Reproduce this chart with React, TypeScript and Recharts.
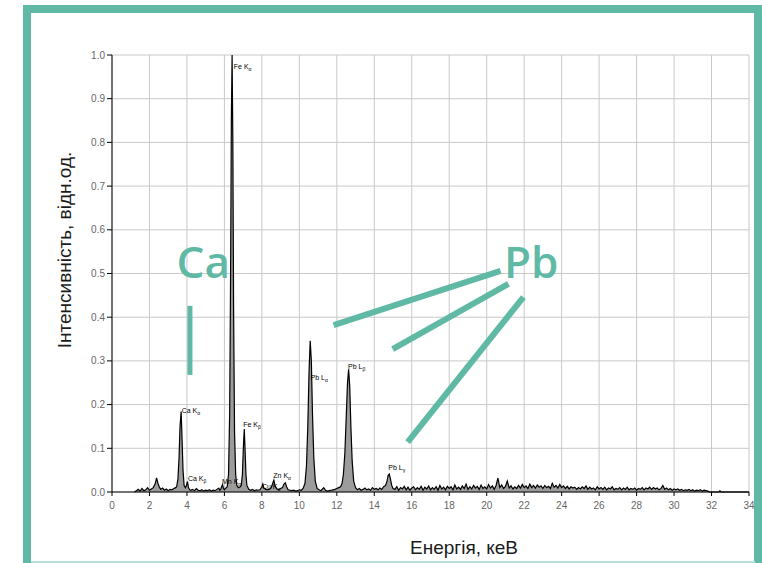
import React from 'react';
import {
  ComposedChart,
  Area,
  XAxis,
  YAxis,
  CartesianGrid,
  ReferenceLine,
  ReferenceDot,
} from 'recharts';

// energy (keV), intensity (rel. units)
const lowRegion: [number, number][] = [
  [1.2, 0], [1.3, 0.003], [1.4, 0.006], [1.5, 0.002], [1.6, 0.008], [1.7, 0.003], [1.8, 0.005],
  [1.9, 0.01], [2.0, 0.004], [2.1, 0.007], [2.2, 0.01], [2.3, 0.018], [2.38, 0.032], [2.45, 0.02],
  [2.52, 0.012], [2.6, 0.006], [2.7, 0.009], [2.8, 0.004], [2.9, 0.007], [3.0, 0.003], [3.1, 0.006],
  [3.2, 0.005], [3.3, 0.008], [3.4, 0.01],
];

const caPeaks: [number, number][] = [
  [3.45, 0.012], [3.52, 0.03], [3.58, 0.08], [3.63, 0.15], [3.69, 0.184], [3.74, 0.12], [3.79, 0.05],
  [3.85, 0.015], [3.92, 0.01], [3.98, 0.016], [4.03, 0.024], [4.08, 0.01], [4.15, 0.005], [4.2, 0.004],
  [4.3, 0.006], [4.4, 0.003], [4.5, 0.008], [4.6, 0.004], [4.7, 0.003], [4.8, 0.005], [4.9, 0.002],
  [5.0, 0.004], [5.1, 0.003], [5.2, 0.005], [5.3, 0.002], [5.4, 0.004], [5.5, 0.003], [5.6, 0.006],
  [5.7, 0.009], [5.75, 0.004],
];

const mnFePeaks: [number, number][] = [
  [5.8, 0.006], [5.85, 0.012], [5.9, 0.017], [5.95, 0.008], [6.0, 0.005], [6.05, 0.008], [6.1, 0.01],
  [6.15, 0.012], [6.22, 0.04], [6.28, 0.18], [6.33, 0.5], [6.37, 0.85], [6.41, 1.0], [6.45, 0.8],
  [6.49, 0.42], [6.54, 0.14], [6.6, 0.04], [6.66, 0.015], [6.75, 0.01], [6.85, 0.012], [6.9, 0.015],
  [6.96, 0.04], [7.01, 0.1], [7.06, 0.144], [7.1, 0.1], [7.15, 0.04], [7.2, 0.015], [7.3, 0.006],
  [7.4, 0.004], [7.5, 0.006], [7.6, 0.003], [7.7, 0.005], [7.8, 0.004],
];

const cuZnPeaks: [number, number][] = [
  [7.9, 0.005], [8.0, 0.012], [8.05, 0.018], [8.1, 0.01], [8.2, 0.006], [8.3, 0.005], [8.4, 0.006],
  [8.5, 0.01], [8.58, 0.02], [8.64, 0.027], [8.7, 0.015], [8.8, 0.007], [8.9, 0.005], [9.0, 0.008],
  [9.1, 0.01], [9.18, 0.018], [9.25, 0.021], [9.32, 0.012], [9.4, 0.005], [9.5, 0.004], [9.6, 0.003],
  [9.7, 0.004], [9.8, 0.002], [9.9, 0.003], [10.0, 0.005], [10.1, 0.004], [10.2, 0.008],
];

const pbPeaks: [number, number][] = [
  [10.3, 0.02], [10.38, 0.06], [10.45, 0.15], [10.52, 0.28], [10.58, 0.346], [10.64, 0.3], [10.7, 0.18],
  [10.77, 0.08], [10.85, 0.025], [10.95, 0.008], [11.05, 0.005], [11.15, 0.003], [11.3, 0.01],
  [11.4, 0.004], [11.5, 0.002], [11.6, 0.003], [11.7, 0.004], [11.8, 0.005], [11.9, 0.006], [12.0, 0.008],
  [12.1, 0.01], [12.2, 0.012], [12.28, 0.02], [12.35, 0.04], [12.43, 0.09], [12.5, 0.17], [12.57, 0.25],
  [12.63, 0.281], [12.69, 0.24], [12.75, 0.15], [12.82, 0.07], [12.9, 0.025], [13.0, 0.01], [13.1, 0.005],
  [13.2, 0.008], [13.3, 0.004], [13.4, 0.006], [13.5, 0.009], [13.6, 0.005], [13.7, 0.007], [13.8, 0.004],
  [13.9, 0.01], [14.0, 0.006], [14.1, 0.008], [14.2, 0.005], [14.3, 0.009], [14.4, 0.006], [14.5, 0.012],
  [14.6, 0.015], [14.68, 0.025], [14.74, 0.038], [14.8, 0.041], [14.86, 0.03], [14.93, 0.015], [15.0, 0.008],
];

const noiseA: [number, number][] = [
  [15.1, 0.006], [15.2, 0.012], [15.3, 0.004], [15.4, 0.01], [15.5, 0.007], [15.6, 0.013], [15.7, 0.005],
  [15.8, 0.011], [15.9, 0.004], [16.0, 0.009], [16.1, 0.012], [16.2, 0.005], [16.3, 0.01], [16.4, 0.006],
  [16.5, 0.013], [16.6, 0.004], [16.7, 0.011], [16.8, 0.007], [16.9, 0.014], [17.0, 0.005], [17.1, 0.01],
  [17.2, 0.006], [17.3, 0.012], [17.4, 0.004], [17.5, 0.015], [17.6, 0.007], [17.7, 0.011], [17.8, 0.005],
  [17.9, 0.013], [18.0, 0.008], [18.1, 0.012], [18.2, 0.005], [18.3, 0.016], [18.4, 0.007], [18.5, 0.011],
  [18.6, 0.006], [18.7, 0.014], [18.8, 0.008], [18.9, 0.018], [19.0, 0.006], [19.1, 0.012], [19.2, 0.007],
  [19.3, 0.015], [19.4, 0.009], [19.5, 0.013], [19.6, 0.006], [19.7, 0.016], [19.8, 0.008], [19.9, 0.012],
  [20.0, 0.007], [20.1, 0.017], [20.2, 0.009], [20.3, 0.014], [20.4, 0.006], [20.5, 0.015], [20.6, 0.032],
  [20.7, 0.01], [20.8, 0.016], [20.9, 0.008], [21.0, 0.013], [21.1, 0.025], [21.2, 0.009], [21.3, 0.014],
  [21.4, 0.007], [21.5, 0.012], [21.6, 0.008], [21.7, 0.015], [21.8, 0.009], [21.9, 0.017], [22.0, 0.01],
  [22.1, 0.014], [22.2, 0.008], [22.3, 0.018], [22.4, 0.01], [22.5, 0.015], [22.6, 0.009], [22.7, 0.016],
  [22.8, 0.011], [22.9, 0.014], [23.0, 0.008], [23.1, 0.015], [23.2, 0.01], [23.3, 0.013], [23.4, 0.008],
  [23.5, 0.02], [23.6, 0.011], [23.7, 0.015], [23.8, 0.009], [23.9, 0.017], [24.0, 0.01],
];

const noiseB: [number, number][] = [
  [24.1, 0.014], [24.2, 0.008], [24.3, 0.013], [24.4, 0.007], [24.5, 0.012], [24.6, 0.009], [24.7, 0.011],
  [24.8, 0.006], [24.9, 0.01], [25.0, 0.007], [25.1, 0.012], [25.2, 0.008], [25.3, 0.014], [25.4, 0.006],
  [25.5, 0.011], [25.6, 0.007], [25.7, 0.009], [25.8, 0.005], [25.9, 0.012], [26.0, 0.007], [26.1, 0.01],
  [26.2, 0.006], [26.3, 0.011], [26.4, 0.005], [26.5, 0.009], [26.6, 0.007], [26.7, 0.012], [26.8, 0.005],
  [26.9, 0.008], [27.0, 0.006], [27.1, 0.01], [27.2, 0.005], [27.3, 0.009], [27.4, 0.006], [27.5, 0.011],
  [27.6, 0.005], [27.7, 0.008], [27.8, 0.006], [27.9, 0.009], [28.0, 0.004], [28.1, 0.008], [28.2, 0.006],
  [28.3, 0.01], [28.4, 0.005], [28.5, 0.009], [28.6, 0.007], [28.7, 0.011], [28.8, 0.006], [28.9, 0.01],
  [29.0, 0.007], [29.1, 0.009], [29.2, 0.005], [29.3, 0.008], [29.4, 0.015], [29.5, 0.006], [29.6, 0.009],
  [29.7, 0.005], [29.8, 0.008], [29.9, 0.004], [30.0, 0.007], [30.1, 0.005], [30.2, 0.007], [30.3, 0.004],
  [30.4, 0.006], [30.5, 0.003], [30.6, 0.005], [30.7, 0.004], [30.8, 0.006], [30.9, 0.003], [31.0, 0.005],
  [31.1, 0.002], [31.2, 0.004], [31.3, 0.003], [31.4, 0.005], [31.5, 0.002], [31.6, 0.004], [31.7, 0.003],
  [31.8, 0.002], [31.9, 0], [32.4, 0], [32.45, 0.003], [32.5, 0], [34, 0],
];

const xTicks = [0, 2, 4, 6, 8, 10, 12, 14, 16, 18, 20, 22, 24, 26, 28, 30, 32, 34];
const yTicks = [0, 0.1, 0.2, 0.3, 0.4, 0.5, 0.6, 0.7, 0.8, 0.9, 1.0];

// line labels: element, line, subscript, anchor energy, anchor intensity
const lineLabels: [string, string, string, number, number][] = [
  ['Fe', 'K', 'α', 6.5, 0.968],
  ['Ca', 'K', 'α', 3.72, 0.18],
  ['Ca', 'K', 'β', 4.05, 0.025],
  ['Mn', 'K', 'α', 5.87, 0.018],
  ['Fe', 'K', 'β', 7.0, 0.148],
  ['Cu', 'K', 'α', 8.0, 0.007],
  ['Zn', 'K', 'α', 8.61, 0.032],
  ['Pb', 'L', 'α', 10.6, 0.256],
  ['Pb', 'L', 'β', 12.6, 0.281],
  ['Pb', 'L', 'γ', 14.75, 0.05],
];

// big annotations
const caText = { e: 4.87, y: 0.492 };
const pbText = { e: 22.37, y: 0.492 };
const caMark: [number, number, number, number] = [4.16, 0.426, 4.16, 0.268];
const pbMarks: [number, number, number, number][] = [
  [20.74, 0.506, 11.83, 0.382],
  [21.16, 0.476, 14.98, 0.327],
  [21.96, 0.446, 15.78, 0.114],
];

const spectrum = [...lowRegion, ...caPeaks, ...mnFePeaks, ...cuZnPeaks, ...pbPeaks, ...noiseA, ...noiseB].map(
  ([e, i]) => ({ e, i })
);

const TEAL = '#5fb9a5';
const tickFont = { fontSize: 10, fill: '#666', fontFamily: '"Liberation Sans Narrow", "Liberation Sans", Arial, sans-serif' };

export default function App() {
  return (
    <div style={{ position: 'absolute', left: 0, top: 0, width: 762, height: 563, background: '#fff', overflow: 'hidden' }}>
      <ComposedChart width={762} height={563} data={spectrum} margin={{ top: 55, right: 13, bottom: 41, left: 52 }}>
        <CartesianGrid stroke="#c9c9c9" strokeWidth={1} />
        <XAxis
          dataKey="e"
          type="number"
          domain={[0, 34]}
          ticks={xTicks}
          height={30}
          stroke="#000"
          tickSize={4}
          tickMargin={6}
          tick={tickFont}
          interval={0}
        />
        <YAxis
          type="number"
          domain={[0, 1]}
          ticks={yTicks}
          width={60}
          stroke="#000"
          tickSize={5}
          tickMargin={2}
          tick={tickFont}
          tickFormatter={(v: number) => v.toFixed(1)}
          interval={0}
        />
        <Area
          dataKey="i"
          type="linear"
          stroke="#000"
          strokeWidth={1.2}
          fill="#9c9c9c"
          fillOpacity={1}
          isAnimationActive={false}
          dot={false}
          activeDot={false}
        />
        {lineLabels.map(([el, ln, sub, e, y], idx) => (
          <ReferenceDot
            key={idx}
            x={e}
            y={y}
            r={0}
            ifOverflow="visible"
            shape={(p: any) => (
              <text x={p.cx} y={p.cy} fontSize={7} fill="#000" fontFamily="Arial, sans-serif">
                {el} {ln}
                <tspan fontSize={5} dy={2}>{sub}</tspan>
              </text>
            )}
          />
        ))}
        <ReferenceLine
          segment={[{ x: caMark[0], y: caMark[1] }, { x: caMark[2], y: caMark[3] }]}
          stroke={TEAL}
          strokeWidth={5}
          ifOverflow="visible"
        />
        {pbMarks.map((m, idx) => (
          <ReferenceLine
            key={idx}
            segment={[{ x: m[0], y: m[1] }, { x: m[2], y: m[3] }]}
            stroke={TEAL}
            strokeWidth={6}
            ifOverflow="visible"
          />
        ))}
        {[
          { t: 'Ca', ...caText },
          { t: 'Pb', ...pbText },
        ].map((a) => (
          <ReferenceDot
            key={a.t}
            x={a.e}
            y={a.y}
            r={0}
            ifOverflow="visible"
            shape={(p: any) => (
              <text x={p.cx} y={p.cy + 1} textAnchor="middle" fontSize={44} fontWeight={600} fill={TEAL} fontFamily="'Open Sans', Lato, sans-serif">
                {a.t}
              </text>
            )}
          />
        ))}
      </ComposedChart>
      <div
        style={{
          position: 'absolute',
          left: 65,
          top: 250,
          transform: 'translate(-50%, -50%) rotate(-90deg)',
          whiteSpace: 'nowrap',
          fontFamily: '"Liberation Sans", Arial, sans-serif',
          fontSize: 19,
          color: '#1a1a1a',
        }}
      >
        Інтенсивність, відн.од.
      </div>
      <div
        style={{
          position: 'absolute',
          left: 464,
          top: 548,
          transform: 'translate(-50%, -50%)',
          whiteSpace: 'nowrap',
          fontFamily: '"Liberation Sans", Arial, sans-serif',
          fontSize: 19,
          color: '#1a1a1a',
        }}
      >
        Енергія, кеВ
      </div>
      <div
        style={{
          position: 'absolute',
          left: 23,
          top: 5,
          width: 739,
          height: 570,
          boxSizing: 'border-box',
          borderTop: `8px solid ${TEAL}`,
          borderLeft: `8px solid ${TEAL}`,
          borderRight: `8px solid ${TEAL}`,
          pointerEvents: 'none',
        }}
      />
      <div style={{ position: 'absolute', left: 31, top: 561, width: 724, height: 2, background: '#b5e2d8' }} />
    </div>
  );
}
